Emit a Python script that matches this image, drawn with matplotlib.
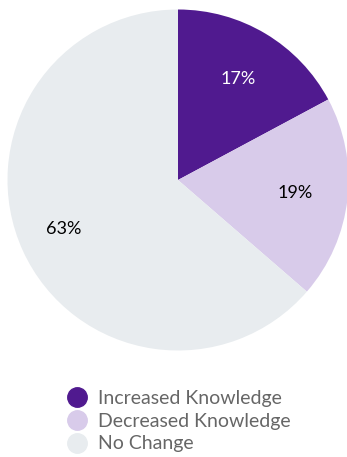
import matplotlib.pyplot as plt
from matplotlib.lines import Line2D

labels = ["Increased Knowledge", "Decreased Knowledge", "No Change"]
shares = [17, 19, 63]
colors = ["#501a8f", "#d8cbea", "#e8ecef"]
text_colors = ["white", "black", "black"]

plt.rcParams['font.family'] = ['Lato', 'DejaVu Sans']

W, H = 347, 457
fig = plt.figure(figsize=(W / 100, H / 100), dpi=100)
# pie axes placed in pixels: center ~(178,180), radius ~170
r = 170.5
cx, cy = 178, 180
ax = fig.add_axes([(cx - r) / W, (H - cy - r) / H, 2 * r / W, 2 * r / H])

wedges, texts, autotexts = ax.pie(
    shares, colors=colors, startangle=90, counterclock=False,
    autopct=lambda p: "%d%%" % round(p * sum(shares) / 100),
    pctdistance=0.69, radius=1.0,
    wedgeprops=dict(linewidth=0),
    textprops=dict(fontsize=13))
for t, c in zip(autotexts, text_colors):
    t.set_color(c)
autotexts[2].set_position((-0.67, -0.29))
ax.set_xlim(-1, 1)
ax.set_ylim(-1, 1)
ax.set_aspect('equal')

handles = [Line2D([], [], marker='o', linestyle='', markersize=14,
                  markerfacecolor=c, markeredgecolor=c) for c in colors]
leg = fig.legend(handles, labels, loc='upper left',
                 bbox_to_anchor=(58 / W, 1 - 382 / H), frameon=False,
                 fontsize=14, labelspacing=0.3, handletextpad=0.45,
                 borderaxespad=0, handlelength=1.2)
for t in leg.get_texts():
    t.set_color("#666666")

fig.savefig("out.png", dpi=100)
